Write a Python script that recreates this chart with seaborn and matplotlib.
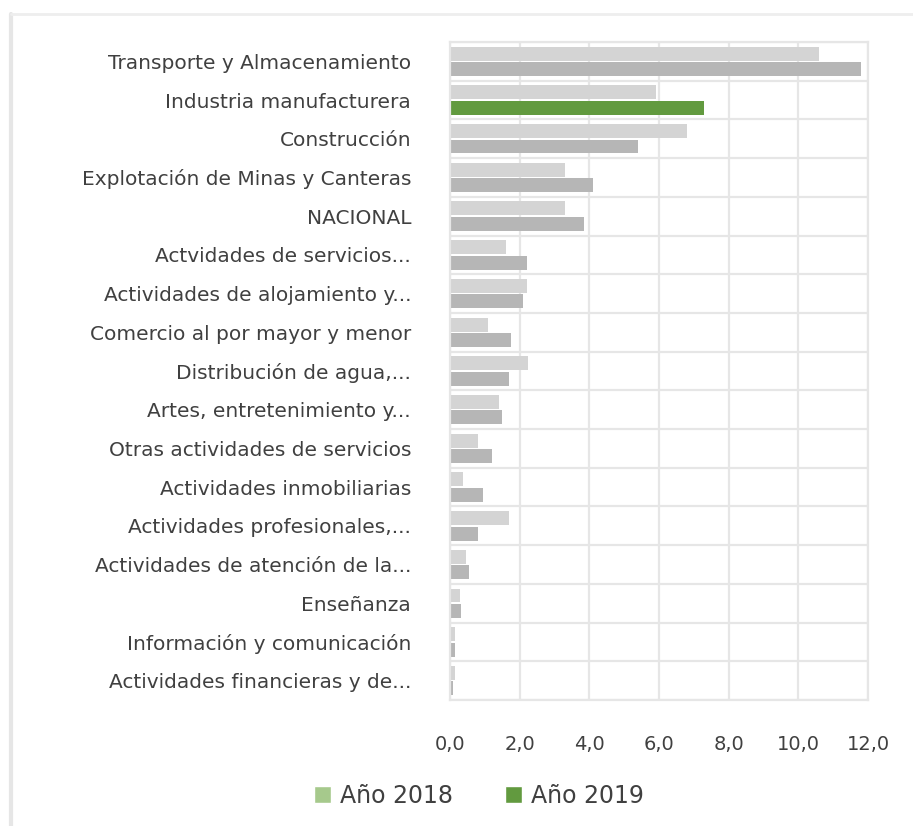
import numpy as np
import pandas as pd
import matplotlib
matplotlib.use('Agg')
import matplotlib.pyplot as plt
import matplotlib.ticker as mticker
from matplotlib.lines import Line2D
from matplotlib.patches import Patch
import seaborn as sns

# Datos
sectores = [
    'Transporte y Almacenamiento',
    'Industria manufacturera',
    'Construcción',
    'Explotación de Minas y Canteras',
    'NACIONAL',
    'Actvidades de servicios...',
    'Actividades de alojamiento y...',
    'Comercio al por mayor y menor',
    'Distribución de agua,...',
    'Artes, entretenimiento y...',
    'Otras actividades de servicios',
    'Actividades inmobiliarias',
    'Actividades profesionales,...',
    'Actividades de atención de la...',
    'Enseñanza',
    'Información y comunicación',
    'Actividades financieras y de...',
]
valores_2018 = [10.6, 5.9, 6.8, 3.3, 3.3, 1.6, 2.2, 1.1, 2.25, 1.4, 0.8, 0.37, 1.68, 0.45, 0.3, 0.14, 0.14]
valores_2019 = [11.8, 7.3, 5.4, 4.1, 3.85, 2.2, 2.1, 1.75, 1.7, 1.5, 1.2, 0.95, 0.8, 0.55, 0.32, 0.14, 0.1]
series = ['Año 2018', 'Año 2019']
xticks = [0, 2, 4, 6, 8, 10, 12]

gris_2018 = '#d4d4d4'
gris_2019 = '#b6b6b6'
verde = '#629a3f'
verde_claro = '#a6c98c'
texto = '#404040'
rejilla = '#e6e6e6'

df = pd.DataFrame({
    'sector': sectores * 2,
    'valor': valores_2018 + valores_2019,
    'anio': [series[0]] * len(sectores) + [series[1]] * len(sectores),
})

sns.set_theme(style='white')
plt.rcParams['font.family'] = ['DejaVu Sans']

fig = plt.figure(figsize=(9.13, 8.26), dpi=100)
ax = fig.add_axes([450 / 913, 1 - 700 / 826, 418 / 913, 658 / 826])

sns.barplot(data=df, y='sector', x='valor', hue='anio', order=sectores,
            palette=[gris_2018, gris_2019], orient='h', width=0.8, gap=0.1,
            ax=ax, legend=False, linewidth=0)

# resaltar Industria manufacturera 2019
ax.containers[1][sectores.index('Industria manufacturera')].set_facecolor(verde)

ax.set_xlim(0, 12)
ax.set_ylim(len(sectores) - 0.5, -0.5)
ax.set_xticks(xticks)
ax.xaxis.set_major_formatter(mticker.FuncFormatter(lambda v, p: f'{v:.1f}'.replace('.', ',')))
ax.set_yticks(np.arange(len(sectores) + 1) - 0.5, minor=True)
ax.grid(True, axis='x', which='major', color=rejilla, linewidth=1.6)
ax.grid(True, axis='y', which='minor', color=rejilla, linewidth=1.6)
ax.grid(False, axis='y', which='major')
ax.set_axisbelow(True)
for s in ax.spines.values():
    s.set_color(rejilla)
    s.set_linewidth(1.6)

ax.set_xlabel('')
ax.set_ylabel('')
ax.tick_params(axis='y', which='both', length=0, pad=28, labelsize=14.5, labelcolor=texto)
ax.tick_params(axis='x', length=0, pad=25, labelsize=14, labelcolor=texto)

handles = [Patch(facecolor=verde_claro, label=series[0]),
           Patch(facecolor=verde, label=series[1])]
fig.legend(handles=handles, loc='center', bbox_to_anchor=(0.525, 1 - 796 / 826), ncol=2,
           frameon=False, fontsize=17, labelcolor=texto, handlelength=0.7, handleheight=0.7,
           handletextpad=0.4, columnspacing=2.2)

# marco exterior tenue
fig.add_artist(Line2D([11 / 913, 11 / 913], [0, 1 - 14 / 826], transform=fig.transFigure,
                      color=rejilla, linewidth=3))
fig.add_artist(Line2D([11 / 913, 1], [1 - 14 / 826, 1 - 14 / 826], transform=fig.transFigure,
                      color='#eeeeee', linewidth=2))

fig.savefig('out.png', dpi=100, facecolor='white')
